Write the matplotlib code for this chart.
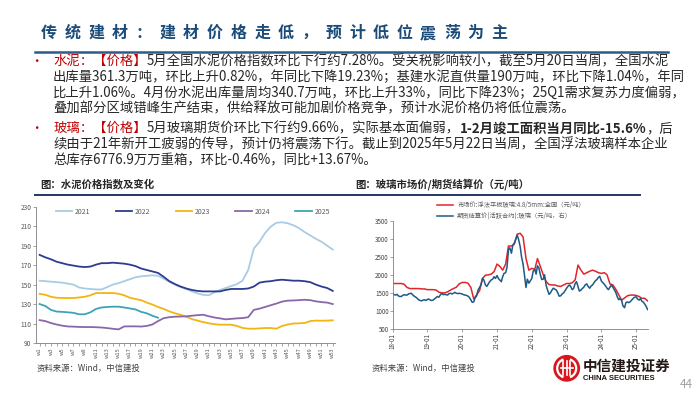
import numpy as np
import pandas as pd
import matplotlib
matplotlib.use('Agg')
import matplotlib.pyplot as plt
import matplotlib.dates as mdates
from matplotlib.patches import Circle, Arc

plt.rcParams['font.family'] = ['Noto Sans CJK SC', 'DejaVu Sans']
plt.rcParams['axes.unicode_minus'] = False

W, H = 700, 394

# 水泥价格指数（周度）
cement_2021 = [154, 153.5, 153, 152.5, 152, 151, 150, 147, 146, 145.5, 145, 145, 147.5, 150, 151.5,
               153.5, 155.5, 157.5, 158.5, 159, 159.5, 159, 156, 153, 150, 147.5, 145.5, 143, 141, 139.5,
               139, 142, 144.5, 146.5, 148.5, 150.5, 154, 165, 187, 194, 203, 209.5, 213.5, 214, 213,
               211, 208, 204, 200.5, 197, 194, 190, 186]
cement_2022 = [180.5, 178, 176, 173.5, 172, 170.5, 169.5, 168.5, 168, 168.5, 170.5, 172, 172, 172.5, 172,
               171.5, 170.5, 169, 166.5, 165, 163.5, 162, 158, 153.5, 150.5, 148, 146, 144.5, 143.5, 143,
               143, 143, 143, 144.5, 145.5, 145.5, 145.5, 146, 148, 152, 153, 153.5, 154.5, 155, 154.5,
               154, 154, 153.5, 152.5, 150, 148, 146.5, 143.5]
cement_2023 = [140.5, 139.5, 137.5, 136.5, 136.2, 136.2, 136.2, 136.8, 137.5, 139, 141.3, 141.3, 141.3, 141.3, 140.6,
               139, 136.5, 135.2, 134, 131.5, 129.5, 127, 125, 122.5, 120.5, 119, 117, 114.6, 113, 111.5,
               110.3, 109.3, 108.8, 108.8, 108.8, 107.5, 105.5, 104.7, 104.7, 105, 105.4, 105.4, 104.7, 107.5, 109,
               110, 110.2, 110.5, 112.5, 113, 112.9, 113, 113.3]
cement_2024 = [113.5, 112.5, 110.5, 109, 107.8, 107, 106.8, 106.5, 106.4, 106.4, 106.2, 105.9, 105.3, 104.6, 104,
               107, 107.1, 107.1, 106.9, 107.5, 109, 112.5, 115.5, 116.5, 117, 117.2, 117.4, 118, 118.6, 119,
               117.5, 116.2, 115.3, 114.3, 114.8, 115.3, 115.6, 116.5, 124, 125.3, 127, 128.8, 130.5, 132.5, 133.5,
               133.7, 134, 134.4, 134, 132.8, 132, 131.5, 130]
cement_2025 = [130, 128, 124, 122.3, 122, 121.5, 121, 119.5, 119.5, 121.5, 125, 126.5, 127, 127.3, 127.3,
               126.5, 125.5, 124.5, 122, 120.5, 118, 116]
cement_years = ['2021', '2022', '2023', '2024', '2025']
cement_colors = ['#A9CBE4', '#2F3C8E', '#F3B512', '#8968A8', '#3CA4B6']

# 玻璃：市场价（月度）、期货结算价（半月度）
glass_spot = [1760, 1760, 1760, 1760, 1740, 1650, 1620, 1620, 1620, 1620, 1610, 1610,
              1590, 1590, 1590, 1580, 1520, 1500, 1500, 1530, 1580, 1620, 1660, 1750,
              1790, 1790, 1770, 1650, 1330, 1450, 1560, 1900, 1990, 2000, 2020, 2090,
              2300, 2230, 2130, 2300, 2800, 2800, 2850, 3130, 3150, 3050, 2450, 2130,
              2180, 2150, 2450, 2230, 2000, 1810, 1730, 1720, 1720, 1690, 1680, 1720,
              1760, 1760, 1780, 1860, 2270, 2130, 2020, 2060, 2100, 2130, 2100, 2060,
              2040, 2060, 2000, 1750, 1720, 1600, 1450, 1300, 1360, 1420, 1440, 1440,
              1430, 1400, 1350, 1350, 1280]
glass_fut = [1480, 1450, 1440, 1460, 1420, 1400, 1400, 1430, 1450, 1440, 1440, 1470,
             1480, 1490, 1440, 1410, 1380, 1350, 1310, 1290, 1280, 1300, 1310, 1290,
             1320, 1330, 1300, 1290, 1300, 1330, 1370, 1400, 1380, 1440, 1490, 1450,
             1460, 1450, 1440, 1480, 1490, 1470, 1490, 1515, 1490, 1480, 1490, 1480,
             1470, 1450, 1440, 1430, 1410, 1380, 1300, 1240, 1250, 1360, 1420, 1580,
             1650, 1720, 1900, 1860, 1720, 1680, 1750, 1810, 1860, 1880, 1950, 1900,
             1980, 1900, 1850, 1810, 1950, 2040, 2060, 2200, 2700, 2750, 2600, 2820,
             2880, 2980, 3100, 2980, 2780, 2500, 2300, 2000, 1650, 1880, 1770, 1830,
             1900, 2100, 2150, 2020, 2250, 2200, 2000, 1870, 1880, 2000, 1700, 1580,
             1460, 1500, 1580, 1630, 1600, 1580, 1500, 1410, 1420, 1470, 1500, 1560,
             1630, 1680, 1720, 1670, 1590, 1620, 1760, 1810, 1680, 1550, 1580, 1620,
             1660, 1720, 1750, 1680, 1630, 1690, 1720, 1780, 1840, 1870, 1930, 1960,
             1830, 1790, 1740, 1690, 1630, 1590, 1660, 1720, 1660, 1590, 1510, 1400,
             1310, 1340, 1290, 1140, 1090, 1230, 1250, 1230, 1260, 1300, 1350, 1380,
             1390, 1330, 1300, 1340, 1270, 1250, 1190, 1130, 1040]
spot_dates = pd.date_range('2018-01-01', periods=len(glass_spot), freq='MS')
fut_dates = pd.date_range('2018-01-01', periods=len(glass_fut), freq='SMS')
spot_label = '市场价:浮法平板玻璃:4.8/5mm:全国（元/吨）'
fut_label = '期货结算价(活跃合约):玻璃（元/吨，右）'

title = '传统建材：建材价格走低，预计低位震荡为主'
RED = '#C00000'
TXT = '#262626'
body = [
    [('水泥：【价格】', RED, 'normal'),
     ('5月全国水泥价格指数环比下行约7.28%。受关税影响较小，截至5月20日当周，全国水泥', TXT, 'normal')],
    [('出库量361.3万吨，环比上升0.82%，年同比下降19.23%；基建水泥直供量190万吨，环比下降1.04%，年同', TXT, 'normal')],
    [('比上升1.06%。4月份水泥出库量周均340.7万吨，环比上升33%，同比下降23%；25Q1需求复苏力度偏弱，', TXT, 'normal')],
    [('叠加部分区域错峰生产结束，供给释放可能加剧价格竞争，预计水泥价格仍将低位震荡。', TXT, 'normal')],
    [('玻璃：【价格】', RED, 'normal'),
     ('5月玻璃期货价环比下行约9.66%，实际基本面偏弱，', TXT, 'normal'),
     ('1-2月竣工面积当月同比-15.6%', TXT, 'bold'),
     ('，后', TXT, 'normal')],
    [('续由于21年新开工疲弱的传导，预计仍将震荡下行。截止到2025年5月22日当周，全国浮法玻璃样本企业', TXT, 'normal')],
    [('总库存6776.9万万重箱，环比-0.46%，同比+13.67%。', TXT, 'normal')],
]
body_y = [61, 77.3, 92.7, 108.3, 128.3, 144, 160]
body_fs = 9.6

fig = plt.figure(figsize=(7, 3.94), dpi=100)

# 背景层，用像素坐标排版
bg = fig.add_axes([0, 0, 1, 1])
bg.set_xlim(0, W)
bg.set_ylim(H, 0)
bg.axis('off')

# 标题
for i, ch in enumerate(title):
    bg.text(49 + i * 23.7, 33, ch, fontsize=11.5, fontweight='bold', color='#1B4B79',
            ha='center', va='center')
bg.plot([35, 668], [51.7, 51.7], color='#2B5C8A', lw=1.8)

# 正文
for y, parts in zip(body_y, body):
    if parts[0][1] == RED:
        bg.text(36.7, y, '•', fontsize=9, color=RED, ha='center', va='center')
    s, c, w = parts[0]
    t = bg.text(53, y, s, fontsize=body_fs, color=c, fontweight=w, va='center')
    for s, c, w in parts[1:]:
        t = bg.annotate(s, xy=(1, 0.5), xycoords=t, fontsize=body_fs, color=c,
                        fontweight=w, va='center')

# 图标题
bg.text(40, 184.5, '图：水泥价格指数及变化', fontsize=7.5, fontweight='bold', color=TXT, va='center')
bg.text(355, 184.5, '图：玻璃市场价/期货结算价（元/吨）', fontsize=7.5, fontweight='bold', color=TXT, va='center')
bg.plot([35, 640], [195, 195], color='#1F3864', lw=1.4)

# 资料来源
bg.text(37, 368, '资料来源：Wind，中信建投', fontsize=6, style='italic', color='#404040', va='center')
bg.text(372, 368, '资料来源：Wind，中信建投', fontsize=6, style='italic', color='#404040', va='center')

# 标志
cx, cy = 566.7, 368.3
bg.add_patch(Circle((cx, cy), 12.7, color='#D7161E'))
bg.add_patch(Arc((cx, cy), 19, 19, theta1=110, theta2=250, color='white', lw=1.6))
bg.add_patch(Arc((cx, cy), 19, 19, theta1=-70, theta2=70, color='white', lw=1.6))
for dx in (-3.5, 0, 3.5):
    bg.plot([cx + dx, cx + dx], [cy - 7, cy + 7], color='white', lw=1.2)
bg.plot([cx - 6, cx + 6], [cy, cy], color='white', lw=1.2)
bg.text(583, 365.5, '中信建投证券', fontsize=10.5, fontweight='bold', color='#231815', va='center')
bg.text(583, 378, 'CHINA SECURITIES', fontsize=5.5, fontweight='bold', color='#231815',
        va='center', family='Liberation Sans')
bg.text(686, 385, '44', fontsize=8.5, color='#A0A0A0', ha='center', va='center')

# 左图：水泥价格指数
ax1 = fig.add_axes([35.7 / W, 1 - 343 / H, (335 - 35.7) / W, (343 - 206.7) / H])
series = [cement_2021, cement_2022, cement_2023, cement_2024, cement_2025]
for lab, vals, col in zip(cement_years, series, cement_colors):
    ax1.plot(np.arange(1, len(vals) + 1), vals, color=col, lw=1.3, label=lab)
weeks = np.arange(1, 54)
ax1.set_xlim(0.3, 53.4)
ax1.set_ylim(90, 230)
ax1.set_yticks(range(90, 231, 20))
ax1.set_xticks(weeks)
ax1.set_xticklabels(['w%d' % w if w % 2 else '' for w in weeks])
ax1.tick_params(axis='x', labelrotation=90, labelsize=4, length=2, width=0.5,
                colors='#7F7F7F', labelcolor='#595959', pad=1)
ax1.tick_params(axis='y', labelsize=4.8, length=2, width=0.5, colors='#7F7F7F',
                labelcolor='#595959', pad=1)
for sp in ['top', 'right']:
    ax1.spines[sp].set_visible(False)
for sp in ['left', 'bottom']:
    ax1.spines[sp].set_color('#7F7F7F')
    ax1.spines[sp].set_linewidth(0.6)
ax1.legend(ncol=5, loc='center', bbox_to_anchor=(193 / W, 1 - 211.7 / H),
           bbox_transform=fig.transFigure, frameon=False, fontsize=5, handlelength=2.4,
           columnspacing=3.6, handletextpad=0.4, labelcolor='#595959')

# 右图：玻璃价格
ax2 = fig.add_axes([392.7 / W, 1 - 329 / H, 255.3 / W, 108.3 / H])
ax2.plot(spot_dates, glass_spot, color='#E0252B', lw=1.1, label=spot_label)
ax2.plot(fut_dates, glass_fut, color='#1D5A85', lw=1.1, label=fut_label)
ax2.set_xlim(pd.Timestamp('2018-01-01'), pd.Timestamp('2025-05-05'))
ax2.set_ylim(500, 3500)
ax2.set_yticks(range(500, 3501, 500))
ax2.set_xticks([pd.Timestamp('%d-01-01' % y) for y in range(2018, 2026)])
ax2.xaxis.set_major_formatter(mdates.DateFormatter('%y-%m'))
ax2.tick_params(axis='x', labelrotation=90, labelsize=4.5, length=2, width=0.5,
                colors='#7F7F7F', labelcolor='#404040', pad=1)
ax2.tick_params(axis='y', labelsize=4.5, length=2, width=0.5, colors='#7F7F7F',
                labelcolor='#404040', pad=1)
for sp in ['top', 'right']:
    ax2.spines[sp].set_visible(False)
for sp in ['left', 'bottom']:
    ax2.spines[sp].set_color('#7F7F7F')
    ax2.spines[sp].set_linewidth(0.6)
ax2.legend(loc='lower left', bbox_to_anchor=(434 / W, 1 - 223 / H),
           bbox_transform=fig.transFigure, frameon=False, fontsize=4.5, handlelength=2.6,
           labelspacing=0.45, handletextpad=0.6, borderpad=0, labelcolor='#595959')

fig.savefig('out.png', dpi=100)
